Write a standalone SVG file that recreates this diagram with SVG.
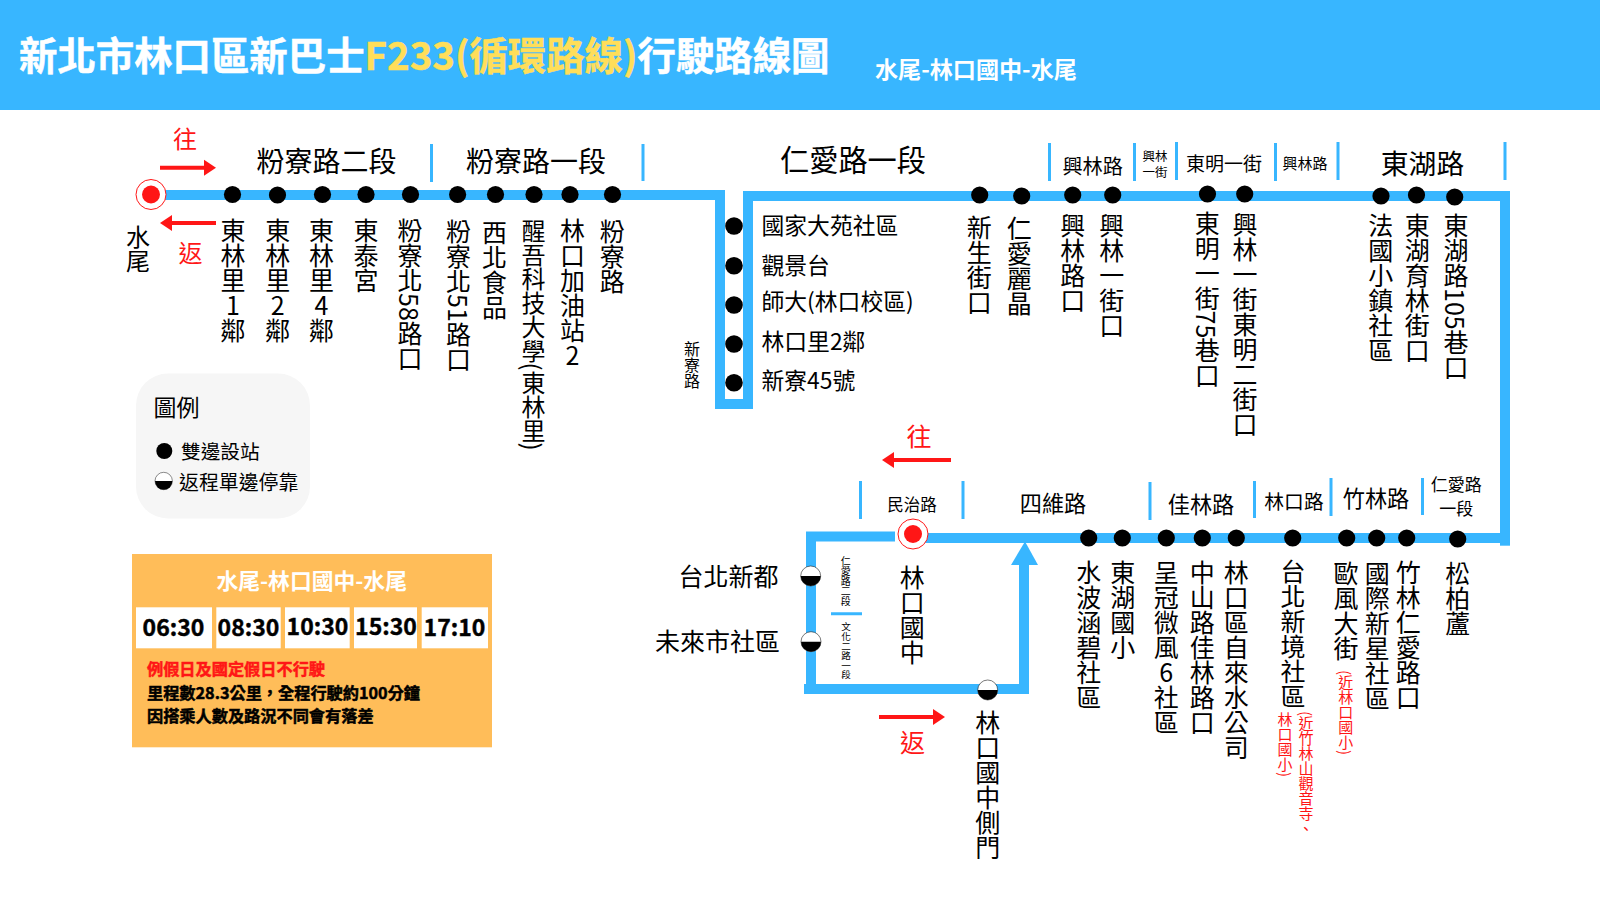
<svg xmlns="http://www.w3.org/2000/svg" width="1600" height="900" viewBox="0 0 1600 900">
<style>
text{font-family:"Noto Sans CJK TC","Noto Sans",sans-serif;fill:#000}
.v{writing-mode:vertical-rl;font-size:25px}
.u{text-orientation:upright}
.m{text-anchor:middle}
.e{text-anchor:end}
.b{font-weight:700}
.w{fill:#fff}
.r{fill:#ff1616}
.tick{stroke:#38b6ff;stroke-width:3;fill:none}
.route{stroke:#38b6ff;stroke-width:10;fill:none;stroke-linejoin:miter}
.dot{fill:#000}
.arr{stroke:#ff1616;stroke-width:4;fill:none}
.head{fill:#ff1616}
.rn{writing-mode:vertical-rl;font-size:15px;fill:#ff1616}
.cell{fill:#fff}
.t{font-size:23px;font-weight:700;text-anchor:middle;stroke:#000;stroke-width:.4}
.h{stroke-width:.5}
</style>
<defs>
<g id="half"><circle r="10" fill="#fff" stroke="#222" stroke-width="0.6"/><path d="M-10,0A10,10 0 0 0 10,0Z" fill="#000"/></g>
<g id="term"><circle r="15" fill="#fff" stroke="#ff1616" stroke-width="1"/><circle r="9" fill="#ff1616"/></g>
</defs>
<rect id="header" x="0" y="0" width="1600" height="110" fill="#38b6ff"/>
<text id="title" x="19" y="69.5" class="b" font-size="38.4"><tspan style="fill:#fff;stroke:#fff;stroke-width:.5">新北市林口區新巴士</tspan><tspan style="fill:#ffde59;stroke:#ffde59;stroke-width:.5">F233(循環路線)</tspan><tspan style="fill:#fff;stroke:#fff;stroke-width:.5">行駛路線圖</tspan></text>
<text id="subtitle" x="875" y="78" class="b w" font-size="23.1">水尾-林口國中-水尾</text>

<g id="connectors">
<path class="route" d="M160,195H720V404H748V196H1505V538H925"/>
<path class="route" d="M1505,540V545.7"/>
<path class="route" d="M895,536.5H811V689H1024V560"/>
<path class="route" d="M804,689H811"/>
<polygon points="1025,541.5 1011,565 1038,565" fill="#38b6ff"/>
</g>

<g id="ticks">
<path class="tick" d="M431.5,144V182M643,144V181M1049.5,143V181M1134.5,143V181M1176.5,142V180M1275.5,143V181M1338,142V180M1505,142V180M860.5,481V519M963,481V519M1150,482V520M1254.5,481V518M1331,478V516M1422.5,478V515M831,613.7H862"/>
</g>

<g id="direction-arrows">
<path class="arr" d="M160,167.7H206"/><polygon class="head" points="216,167.7 204,159.7 204,175.7"/>
<path class="arr" d="M216,223H170"/><polygon class="head" points="160,223 172,215 172,231"/>
<path class="arr" d="M951,460H892"/><polygon class="head" points="882,460 894,452 894,468"/>
<path class="arr" d="M879,717H935"/><polygon class="head" points="945,717 933,709 933,725"/>
<text class="r m" x="185" y="148" font-size="24">往</text>
<text class="r m" x="190.5" y="262" font-size="24">返</text>
<text class="r m" x="919" y="446" font-size="25">往</text>
<text class="r m" x="912.5" y="752" font-size="25">返</text>
</g>

<g id="section-labels">
<text class="m" x="326.5" y="172" font-size="28">粉寮路二段</text>
<text class="m" x="536" y="172" font-size="28">粉寮路一段</text>
<text class="m" x="853" y="171" font-size="29.2">仁愛路一段</text>
<text class="m" x="1092.7" y="173.5" font-size="20.2">興林路</text>
<text class="m" x="1155" y="160.5" font-size="12.5">興林</text>
<text class="m" x="1155" y="177" font-size="12.5">一街</text>
<text class="m" x="1224" y="170.5" font-size="19">東明一街</text>
<text class="m" x="1305" y="168.5" font-size="15">興林路</text>
<text class="m" x="1422.5" y="174" font-size="27.8">東湖路</text>
<text class="m" x="912" y="510.5" font-size="16.5">民治路</text>
<text class="m" x="1053" y="511.5" font-size="22.2">四維路</text>
<text class="m" x="1201" y="512.5" font-size="22.2">佳林路</text>
<text class="m" x="1294" y="508.5" font-size="19.8">林口路</text>
<text class="m" x="1376" y="506.5" font-size="22.2">竹林路</text>
<text class="m" x="1456.3" y="491" font-size="17">仁愛路</text>
<text class="m" x="1456.3" y="515" font-size="17">一段</text>
<text style="writing-mode:vertical-rl" x="692" y="340.5" font-size="16">新寮路</text>
<text style="writing-mode:vertical-rl" x="845.7" y="556.5" font-size="10">仁愛路二段</text>
<text style="writing-mode:vertical-rl" x="846" y="622" font-size="9.6">文化二路一段</text>
</g>

<g id="stop-shuiwei"><use href="#term" x="151" y="194.5"/><text class="v" x="138" y="225" style="font-size:24px">水尾</text></g>
<g id="stop-1"><circle class="dot" cx="232.5" cy="194.5" r="8.6"/><text class="v" x="233" y="218">東林里<tspan class="u">1</tspan>鄰</text></g>
<g id="stop-2"><circle class="dot" cx="277.5" cy="195" r="8.6"/><text class="v" x="277.7" y="218">東林里<tspan class="u">2</tspan>鄰</text></g>
<g id="stop-3"><circle class="dot" cx="322.5" cy="194.5" r="8.6"/><text class="v" x="321.4" y="218">東林里<tspan class="u">4</tspan>鄰</text></g>
<g id="stop-4"><circle class="dot" cx="366" cy="194.5" r="8.6"/><text class="v" x="366" y="218">東泰宮</text></g>
<g id="stop-5"><circle class="dot" cx="410.5" cy="194.5" r="8.6"/><text class="v" x="410" y="218">粉寮北58路口</text></g>
<g id="stop-6"><circle class="dot" cx="457.6" cy="194.5" r="8.6"/><text class="v" x="458.5" y="219">粉寮北51路口</text></g>
<g id="stop-7"><circle class="dot" cx="495.5" cy="194.5" r="8.6"/><text class="v" x="494.5" y="220">西北食品</text></g>
<g id="stop-8"><circle class="dot" cx="534" cy="194.5" r="8.6"/><text class="v" x="533.5" y="218.5" style="font-size:24px">醒吾科技大學(東林里)</text></g>
<g id="stop-9"><circle class="dot" cx="570" cy="194.5" r="8.6"/><text class="v" x="572.5" y="218">林口加油站<tspan class="u">2</tspan></text></g>
<g id="stop-10"><circle class="dot" cx="612.5" cy="194.5" r="8.6"/><text class="v" x="612.3" y="219">粉寮路</text></g>

<g id="stop-11"><circle class="dot" cx="734" cy="226" r="8.8"/><text x="761.5" y="233.5" font-size="22.8">國家大苑社區</text></g>
<g id="stop-12"><circle class="dot" cx="734" cy="265.7" r="8.8"/><text x="761.5" y="274" font-size="22.8">觀景台</text></g>
<g id="stop-13"><circle class="dot" cx="734" cy="305" r="8.8"/><text x="761.5" y="310" font-size="22.8">師大(林口校區)</text></g>
<g id="stop-14"><circle class="dot" cx="734" cy="344" r="8.8"/><text x="761.5" y="350" font-size="22.8">林口里2鄰</text></g>
<g id="stop-15"><circle class="dot" cx="734" cy="382.7" r="8.8"/><text x="761.5" y="389" font-size="22.8">新寮45號</text></g>

<g id="stop-16"><circle class="dot" cx="979.7" cy="195" r="8.6"/><text class="v" x="979.3" y="214.5">新生街口</text></g>
<g id="stop-17"><circle class="dot" cx="1021.7" cy="196" r="8.6"/><text class="v" x="1019.3" y="215.5">仁愛麗晶</text></g>
<g id="stop-18"><circle class="dot" cx="1072.7" cy="195" r="8.6"/><text class="v" x="1072.7" y="212.5">興林路口</text></g>
<g id="stop-19"><circle class="dot" cx="1112.7" cy="195" r="8.6"/><text class="v" x="1111.7" y="213">興林一街口</text></g>
<g id="stop-20"><circle class="dot" cx="1207.5" cy="194" r="8.6"/><text class="v" x="1207.3" y="210.5">東明一街75巷口</text></g>
<g id="stop-21"><circle class="dot" cx="1244.7" cy="194" r="8.6"/><text class="v" x="1245" y="212">興林一街東明二街口</text></g>
<g id="stop-22"><circle class="dot" cx="1381" cy="196" r="8.6"/><text class="v" x="1380.7" y="213">法國小鎮社區</text></g>
<g id="stop-23"><circle class="dot" cx="1416.5" cy="195" r="8.6"/><text class="v" x="1417.3" y="213">東湖育林街口</text></g>
<g id="stop-24"><circle class="dot" cx="1454.7" cy="197" r="8.6"/><text class="v" x="1456" y="213">東湖路105巷口</text></g>

<g id="stop-25"><circle class="dot" cx="1457.7" cy="539" r="8.6"/><text class="v" x="1457.7" y="561">松柏蘆</text></g>
<g id="stop-26"><circle class="dot" cx="1406.7" cy="538" r="8.6"/><text class="v" x="1408.3" y="560">竹林仁愛路口</text></g>
<g id="stop-27"><circle class="dot" cx="1376.7" cy="538" r="8.6"/><text class="v" x="1377.3" y="561">國際新星社區</text></g>
<g id="stop-28"><circle class="dot" cx="1346.7" cy="538" r="8.6"/><text class="v" x="1346" y="561">歐風大街</text><text class="rn" x="1345.7" y="670">(近林口國小)</text></g>
<g id="stop-29"><circle class="dot" cx="1292.7" cy="538" r="8.6"/><text class="v" x="1293" y="559">台北新境社區</text><text class="rn" x="1306" y="711">(近竹林山觀音寺、</text><text class="rn" x="1285" y="712">林口國小)</text></g>
<g id="stop-30"><circle class="dot" cx="1236.3" cy="538" r="8.6"/><text class="v" x="1236.3" y="560">林口區自來水公司</text></g>
<g id="stop-31"><circle class="dot" cx="1202.3" cy="538" r="8.6"/><text class="v" x="1202.3" y="560">中山路佳林路口</text></g>
<g id="stop-32"><circle class="dot" cx="1166.3" cy="538" r="8.6"/><text class="v" x="1166.3" y="560">呈冠微風<tspan class="u">6</tspan>社區</text></g>
<g id="stop-33"><circle class="dot" cx="1122.3" cy="538" r="8.6"/><text class="v" x="1122.7" y="560">東湖國小</text></g>
<g id="stop-34"><circle class="dot" cx="1088.7" cy="538" r="8.6"/><text class="v" x="1088.7" y="560">水波涵碧社區</text></g>

<g id="stop-linkou"><use href="#term" x="913" y="534"/><text class="v" x="912.3" y="564.5">林口國中</text></g>
<g id="stop-taipei-xindu"><use href="#half" x="810.7" y="576"/><text class="e" x="778.5" y="586" font-size="25">台北新都</text></g>
<g id="stop-weilai"><use href="#half" x="811" y="641.7"/><text class="e" x="780" y="651" font-size="25">未來市社區</text></g>
<g id="stop-side-gate"><use href="#half" x="987.7" y="690"/><text class="v" x="987.7" y="710">林口國中側門</text></g>

<g id="legend">
<rect x="136" y="373.5" width="174" height="145" rx="32" fill="#f6f6f6"/>
<text x="153.5" y="416" font-size="23">圖例</text>
<circle class="dot" cx="164.3" cy="451" r="8"/>
<text x="181" y="459" font-size="19.7">雙邊設站</text>
<use href="#half" transform="translate(163.7,481) scale(.87)"/>
<text x="179" y="490" font-size="19.9">返程單邊停靠</text>
</g>

<g id="timetable">
<rect x="132" y="554" width="360" height="193.3" fill="#ffbd59"/>
<text class="b w m" x="311.7" y="589" font-size="21.8">水尾-林口國中-水尾</text>
<rect class="cell" x="136" y="607.3" width="76" height="41"/>
<rect class="cell" x="216.3" y="607.3" width="64.4" height="41"/>
<rect class="cell" x="285" y="607.3" width="64.7" height="41"/>
<rect class="cell" x="354" y="607.3" width="63" height="41"/>
<rect class="cell" x="421.7" y="607.3" width="66.3" height="41"/>
<text class="t" x="173.5" y="636">06:30</text>
<text class="t" x="248.5" y="636">08:30</text>
<text class="t" x="317.5" y="635">10:30</text>
<text class="t" x="386" y="635">15:30</text>
<text class="t" x="454.5" y="636">17:10</text>
<text class="b r h" style="stroke:#ff1616" x="147" y="675" font-size="16.2">例假日及國定假日不行駛</text>
<text class="b h" style="stroke:#000" x="147" y="699" font-size="16.2">里程數28.3公里，全程行駛約100分鐘</text>
<text class="b h" style="stroke:#000" x="147" y="722" font-size="16.2">因搭乘人數及路況不同會有落差</text>
</g>
</svg>
